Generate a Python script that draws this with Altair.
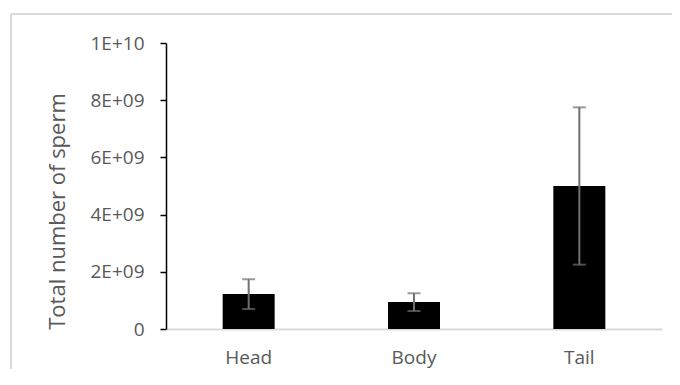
import altair as alt
import pandas as pd

regions = ["Head", "Body", "Tail"]
means = [1.22e9, 0.94e9, 5.0e9]
errors = [0.52e9, 0.31e9, 2.75e9]

tick_values = [0, 2e9, 4e9, 6e9, 8e9, 1e10]
tick_labels = ["0", "2E+09", "4E+09", "6E+09", "8E+09", "1E+10"]

df = pd.DataFrame({
    "region": regions,
    "mean": means,
    "lo": [m - e for m, e in zip(means, errors)],
    "hi": [m + e for m, e in zip(means, errors)],
})

expr = "''"
for v, l in reversed(list(zip(tick_values, tick_labels))):
    expr = f"datum.value == {v:.0f} ? '{l}' : ({expr})"

FONT = "Open Sans"
LABEL = "#595959"

x = alt.X("region:N", sort=regions, title=None,
          scale=alt.Scale(paddingInner=0, paddingOuter=0),
          axis=alt.Axis(labelAngle=0, domainColor="#d9d9d9", domainWidth=2,
                        ticks=False, labelPadding=19, labelFontSize=19,
                        labelColor=LABEL, labelFont=FONT))
y = alt.Y("mean:Q", title="Total number of sperm",
          scale=alt.Scale(domain=[0, 1e10], nice=False),
          axis=alt.Axis(values=tick_values, labelExpr=expr, grid=False,
                        domainColor="#000000", domainWidth=1.5,
                        tickColor="#000000", tickSize=6, tickWidth=1.5,
                        labelPadding=16, labelFontSize=19, labelColor=LABEL,
                        labelFont=FONT, titleFont=FONT, titleFontSize=22,
                        titleFontWeight="normal", titleColor=LABEL,
                        titlePadding=20, titleY=168))

bars = alt.Chart(df).mark_bar(size=52, color="#000000").encode(x=x, y=y)
err = alt.Chart(df).mark_rule(color="#707070", strokeWidth=2).encode(
    x=alt.X("region:N", sort=regions), y="lo:Q", y2="hi:Q")
cap_lo = alt.Chart(df).mark_tick(color="#707070", size=13, thickness=2).encode(
    x=alt.X("region:N", sort=regions), y="lo:Q")
cap_hi = alt.Chart(df).mark_tick(color="#707070", size=13, thickness=2).encode(
    x=alt.X("region:N", sort=regions), y="hi:Q")

frame_left = alt.Chart(df).mark_rule(color="#d9d9d9", strokeWidth=2).encode(
    x=alt.value(-155), y=alt.value(-29), y2=alt.value(400))
frame_top = alt.Chart(df).mark_rule(color="#d9d9d9", strokeWidth=2).encode(
    x=alt.value(-155), x2=alt.value(700), y=alt.value(-29))

chart = alt.layer(frame_left, frame_top, bars, err, cap_lo, cap_hi).properties(
    width=496, height=286,
    autosize=alt.AutoSizeParams(type="none"),
    padding={"left": 158, "top": 35, "right": 10, "bottom": 40},
).configure_view(stroke=None)

chart.save("out.html", embed_options={"renderer": "svg", "actions": False})
